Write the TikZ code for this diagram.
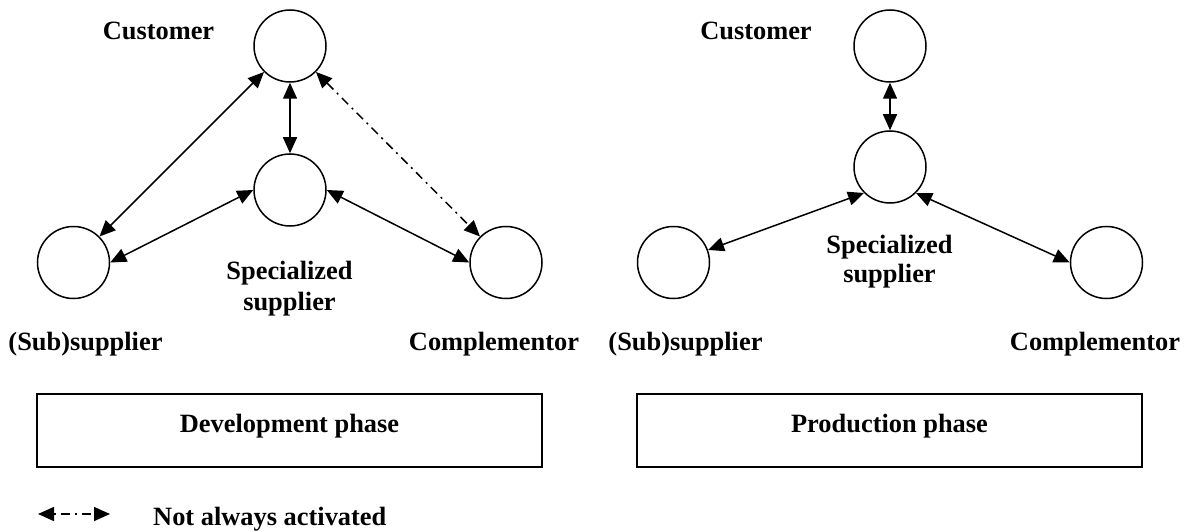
\documentclass[tikz,border=0pt]{standalone}
\usepackage{fontspec}
\setmainfont{Liberation Serif}
\usetikzlibrary{arrows.meta}
\begin{document}
\begin{tikzpicture}[x=1pt,y=-1pt,
  actor/.style={circle,draw,line width=1.5pt,minimum size=72pt,inner sep=0pt},
  lbl/.style={font=\fontsize{26.4}{31}\selectfont\bfseries,inner sep=0pt,anchor=base},
  link/.style={line width=1.5pt,{Triangle[length=16pt,width=14pt]}-{Triangle[length=16pt,width=14pt]}},
  optlink/.style={link,dash pattern=on 9pt off 5pt on 2pt off 5pt},
  phasebox/.style={draw,line width=1.8pt,rectangle}]
\useasboundingbox (0,0) rectangle (1187,532);
% ---- development phase ----
\node[actor] (cusL) at (290,46) {};
\node[actor] (midL) at (290,190) {};
\node[actor] (subL) at (73.5,262.5) {};
\node[actor] (comL) at (506,262.5) {};
\draw[link] (cusL.south) -- (midL.north);
\draw[link] (cusL.225) -- (subL.45);
\draw[link] (midL.west) -- (subL.east);
\draw[link] (midL.east) -- (comL.west);
\draw[optlink] (cusL.315) -- (comL.135);
\node[lbl] (tcusL) at (158.5,39.5) {Customer};
\node[lbl] (tmidL1) at (289.5,279) {Specialized};
\node[lbl] (tmidL2) at (289.5,310) {supplier};
\node[lbl] (tsubL) at (85.5,350) {(Sub)supplier};
\node[lbl] (tcomL) at (494,350) {Complementor};
\node[phasebox,minimum width=505pt,minimum height=73pt] (boxL) at (289.5,430.5) {};
\node[lbl] (tboxL) at (289.5,432) {Development phase};
% ---- production phase ----
\node[actor] (cusR) at (890,46) {};
\node[actor] (midR) at (890,167) {};
\node[actor] (subR) at (673.5,262.5) {};
\node[actor] (comR) at (1106.5,262.5) {};
\draw[link] (cusR.south) -- (midR.north);
\draw[link] (midR.225) -- (subR.20);
\draw[link] (midR.315) -- (comR.west);
\node[lbl] (tcusR) at (756,39.5) {Customer};
\node[lbl] (tmidR1) at (889.5,254) {Specialized};
\node[lbl] (tmidR2) at (889.5,282) {supplier};
\node[lbl] (tsubR) at (685.5,350) {(Sub)supplier};
\node[lbl] (tcomR) at (1095,350) {Complementor};
\node[phasebox,minimum width=505pt,minimum height=73pt] (boxR) at (889.5,430.5) {};
\node[lbl] (tboxR) at (889.5,432) {Production phase};
% ---- legend ----
\coordinate (legA) at (38,514);
\coordinate (legB) at (110,514);
\draw[link,dash pattern=on 2pt off 5pt on 9pt off 5pt] (legA) -- (legB);
\node[lbl,anchor=base west] (tleg) at (153,525.5) {Not always activated};
\end{tikzpicture}
\end{document}
